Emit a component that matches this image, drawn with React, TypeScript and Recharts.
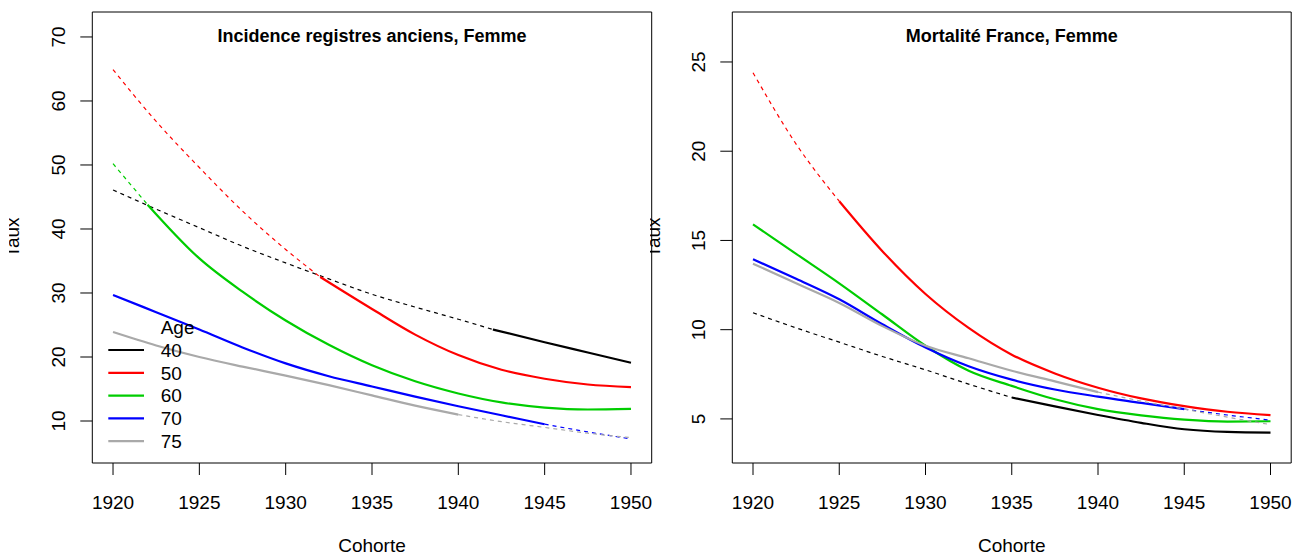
import React from 'react';
import { LineChart, Line, XAxis, YAxis, ReferenceArea, Legend } from 'recharts';

const FONT = '"Liberation Sans", Arial, Helvetica, sans-serif';

// ---------- axes ----------
const cohortTicks = [1920, 1925, 1930, 1935, 1940, 1945, 1950];
const cohortDomain = [1918.8, 1951.2];
const incTicks = [10, 20, 30, 40, 50, 60, 70];
const incDomain = [3.44, 73.9];
const morTicks = [5, 10, 15, 20, 25];
const morDomain = [2.53, 27.8];

// ---------- legend ----------
const ageLabels = ['40', '50', '60', '70', '75'];
const ageColors = ['#000000', '#FF0000', '#00CD00', '#0000FF', '#A9A9A9'];

// ---------- Incidence registres anciens, Femme ----------
const inc40DashX = [1920, 1922.5, 1925, 1927.5, 1930, 1932.5, 1935, 1937.5, 1940, 1942];
const inc40DashY = [46.1, 43.1, 40.2, 37.3, 34.7, 32.2, 29.8, 27.8, 25.9, 24.3];
const inc40SolidX = [1942, 1945, 1947.5, 1950];
const inc40SolidY = [24.3, 22.3, 20.7, 19.1];

const inc50DashX = [1920, 1922.5, 1925, 1927.5, 1930, 1932];
const inc50DashY = [64.9, 56.8, 49.6, 42.8, 36.8, 32.5];
const inc50SolidX = [1932, 1935, 1937.5, 1940, 1942.5, 1945, 1947.5, 1950];
const inc50SolidY = [32.5, 27.5, 23.5, 20.3, 18.0, 16.6, 15.7, 15.3];

const inc60DashX = [1920, 1922];
const inc60DashY = [50.2, 43.8];
const inc60SolidX = [1922, 1925, 1927.5, 1930, 1932.5, 1935, 1937.5, 1940, 1942.5, 1945, 1947.5, 1950];
const inc60SolidY = [43.8, 35.4, 30.2, 25.7, 21.9, 18.7, 16.2, 14.3, 12.9, 12.1, 11.8, 11.9];

const inc70SolidX = [1920, 1922.5, 1925, 1927.5, 1930, 1932.5, 1935, 1937.5, 1940, 1942.5, 1945];
const inc70SolidY = [29.7, 27.0, 24.3, 21.5, 19.0, 17.0, 15.4, 13.8, 12.3, 10.9, 9.5];
const inc70DashX = [1945, 1947.5, 1950];
const inc70DashY = [9.5, 8.3, 7.2];

const inc75SolidX = [1920, 1922.5, 1925, 1927.5, 1930, 1932.5, 1935, 1937.5, 1940];
const inc75SolidY = [23.9, 21.8, 20.0, 18.5, 17.1, 15.6, 14.0, 12.4, 11.0];
const inc75DashX = [1940, 1942.5, 1945, 1947.5, 1950];
const inc75DashY = [11.0, 9.9, 9.0, 8.1, 7.4];

// ---------- Mortalité France, Femme ----------
const mor40DashX = [1920, 1922.5, 1925, 1927.5, 1930, 1932.5, 1935];
const mor40DashY = [10.95, 10.1, 9.3, 8.5, 7.75, 6.95, 6.2];
const mor40SolidX = [1935, 1937.5, 1940, 1942.5, 1945, 1947.5, 1950];
const mor40SolidY = [6.2, 5.7, 5.22, 4.78, 4.42, 4.27, 4.23];

const mor50DashX = [1920, 1922.5, 1925];
const mor50DashY = [24.4, 20.4, 17.2];
const mor50SolidX = [1925, 1927.5, 1930, 1932.5, 1935, 1937.5, 1940, 1942.5, 1945, 1947.5, 1950];
const mor50SolidY = [17.2, 14.4, 12.0, 10.1, 8.6, 7.55, 6.75, 6.15, 5.72, 5.4, 5.21];

const mor60SolidX = [1920, 1922.5, 1925, 1927.5, 1930, 1932.5, 1935, 1937.5, 1940, 1942.5, 1945, 1947.5, 1950];
const mor60SolidY = [15.9, 14.25, 12.6, 10.85, 9.1, 7.7, 6.85, 6.1, 5.55, 5.2, 4.96, 4.85, 4.87];

const mor70SolidX = [1920, 1922.5, 1925, 1927.5, 1930, 1932.5, 1935, 1937.5, 1940, 1942.5, 1945];
const mor70SolidY = [13.95, 12.85, 11.7, 10.3, 9.0, 7.95, 7.2, 6.65, 6.25, 5.9, 5.55];
const mor70DashX = [1945, 1947.5, 1950];
const mor70DashY = [5.55, 5.22, 4.93];

const mor75SolidX = [1920, 1922.5, 1925, 1927.5, 1930, 1932.5, 1935, 1937.5, 1940];
const mor75SolidY = [13.7, 12.6, 11.5, 10.2, 9.1, 8.4, 7.7, 7.1, 6.5];
const mor75DashX = [1940, 1942.5, 1945, 1947.5, 1950];
const mor75DashY = [6.5, 6.0, 5.55, 5.1, 4.68];

type Seg = { age: number; dashed: boolean; xs: number[]; ys: number[] };

const toPts = (xs: number[], ys: number[]) => xs.map((x, i) => ({ x, y: ys[i] }));

const incSegs: Seg[] = [
  { age: 0, dashed: true, xs: inc40DashX, ys: inc40DashY },
  { age: 0, dashed: false, xs: inc40SolidX, ys: inc40SolidY },
  { age: 1, dashed: true, xs: inc50DashX, ys: inc50DashY },
  { age: 1, dashed: false, xs: inc50SolidX, ys: inc50SolidY },
  { age: 2, dashed: true, xs: inc60DashX, ys: inc60DashY },
  { age: 2, dashed: false, xs: inc60SolidX, ys: inc60SolidY },
  { age: 3, dashed: false, xs: inc70SolidX, ys: inc70SolidY },
  { age: 3, dashed: true, xs: inc70DashX, ys: inc70DashY },
  { age: 4, dashed: false, xs: inc75SolidX, ys: inc75SolidY },
  { age: 4, dashed: true, xs: inc75DashX, ys: inc75DashY },
];

const morSegs: Seg[] = [
  { age: 0, dashed: true, xs: mor40DashX, ys: mor40DashY },
  { age: 0, dashed: false, xs: mor40SolidX, ys: mor40SolidY },
  { age: 1, dashed: true, xs: mor50DashX, ys: mor50DashY },
  { age: 1, dashed: false, xs: mor50SolidX, ys: mor50SolidY },
  { age: 2, dashed: false, xs: mor60SolidX, ys: mor60SolidY },
  { age: 3, dashed: false, xs: mor70SolidX, ys: mor70SolidY },
  { age: 3, dashed: true, xs: mor70DashX, ys: mor70DashY },
  { age: 4, dashed: false, xs: mor75SolidX, ys: mor75SolidY },
  { age: 4, dashed: true, xs: mor75DashX, ys: mor75DashY },
];

const TXT = { fontFamily: FONT, fontSize: 19, fill: '#000' };

const XTick = (p: any) => (
  <text x={p.x} y={p.y + 33.8} textAnchor="middle" {...TXT}>
    {p.payload.value}
  </text>
);

const YTick = (p: any) => (
  <text transform={`translate(${p.x - 15.3}, ${p.y}) rotate(-90)`} textAnchor="middle" {...TXT}>
    {p.payload.value}
  </text>
);

const LegendBox = () => {
  const rowY = [40, 62.8, 85.6, 108.4, 131.2];
  return (
    <svg width={130} height={145} style={{ display: 'block' }}>
      <text x={60.7} y={23.6} {...TXT}>Age</text>
      {ageLabels.map((a, i) => (
        <g key={a}>
          <line x1={8.3} x2={44} y1={rowY[i]} y2={rowY[i]} stroke={ageColors[i]} strokeWidth={2.2} />
          <text x={60.7} y={rowY[i] + 6.8} {...TXT}>{a}</text>
        </g>
      ))}
    </svg>
  );
};

type PanelProps = {
  left: number;
  width: number;
  plotLeft: number;
  marginRight: number;
  yDomain: number[];
  yTicks: number[];
  title: string;
  segs: Seg[];
  legend?: boolean;
};

const Panel = ({ left, width, plotLeft, marginRight, yDomain, yTicks, title, segs, legend }: PanelProps) => (
  <div style={{ position: 'absolute', left, top: 0 }}>
    <LineChart width={width} height={555} margin={{ top: 12, right: marginRight, bottom: 0, left: 0 }}>
      <XAxis
        type="number"
        dataKey="x"
        domain={cohortDomain}
        ticks={cohortTicks}
        allowDataOverflow
        interval={0}
        height={92}
        axisLine={false}
        tickLine={{ stroke: '#000', strokeWidth: 1 }}
        tickSize={12}
        tickMargin={0}
        tick={XTick}
        label={(p: any) => (
          <text x={p.viewBox.x + p.viewBox.width / 2} y={552} textAnchor="middle" {...TXT}>
            Cohorte
          </text>
        )}
      />
      <YAxis
        type="number"
        dataKey="y"
        domain={yDomain}
        ticks={yTicks}
        allowDataOverflow
        interval={0}
        width={plotLeft}
        axisLine={false}
        tickLine={{ stroke: '#000', strokeWidth: 1 }}
        tickSize={12}
        tickMargin={0}
        tick={YTick}
        label={(p: any) => (
          <text
            transform={`translate(10, ${p.viewBox.y + p.viewBox.height / 2}) rotate(-90)`}
            textAnchor="middle"
            {...TXT}
          >
            Taux
          </text>
        )}
      />
      {segs.map((s, i) => (
        <Line
          key={i}
          data={toPts(s.xs, s.ys)}
          dataKey="y"
          type="monotone"
          stroke={ageColors[s.age]}
          strokeWidth={s.dashed ? 1.2 : 2.2}
          strokeDasharray={s.dashed ? '4 4' : undefined}
          dot={false}
          activeDot={false}
          legendType="none"
          isAnimationActive={false}
        />
      ))}
      <ReferenceArea
        x1={cohortDomain[0]}
        x2={cohortDomain[1]}
        y1={yDomain[0]}
        y2={yDomain[1]}
        fill="none"
        fillOpacity={0}
        stroke="#000"
        strokeWidth={1}
        ifOverflow="visible"
        label={(p: any) => (
          <text
            x={p.viewBox.x + p.viewBox.width / 2}
            y={p.viewBox.y + 30}
            textAnchor="middle"
            fontFamily={FONT}
            fontSize={18}
            fontWeight="bold"
            fill="#000"
          >
            {title}
          </text>
        )}
      />
      {legend && (
        <Legend
          layout="vertical"
          align="center"
          verticalAlign="middle"
          content={() => <LegendBox />}
          wrapperStyle={{ left: 91, top: 310, width: 130, height: 145, bottom: 'auto', right: 'auto' }}
        />
      )}
    </LineChart>
  </div>
);

export default function App() {
  return (
    <div style={{ position: 'absolute', left: 0, top: 0, width: 1293, height: 555, background: '#fff', overflow: 'hidden' }}>
      <Panel
        left={9}
        width={650}
        plotLeft={83.3}
        marginRight={7.3}
        yDomain={incDomain}
        yTicks={incTicks}
        title="Incidence registres anciens, Femme"
        segs={incSegs}
        legend
      />
      <Panel
        left={650}
        width={643}
        plotLeft={82.3}
        marginRight={1.8}
        yDomain={morDomain}
        yTicks={morTicks}
        title="Mortalité France, Femme"
        segs={morSegs}
      />
    </div>
  );
}
